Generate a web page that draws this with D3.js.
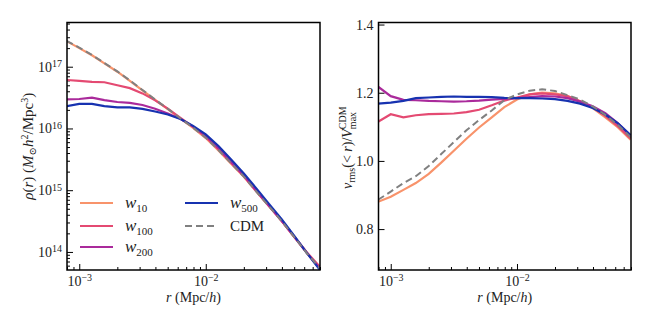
<!DOCTYPE html>
<html>
<head>
<meta charset="utf-8">
<script src="https://cdn.jsdelivr.net/npm/d3@7"></script>
<style>
  body { margin: 0; background: #fff; }
  text { font-family: "Liberation Serif", "DejaVu Serif", serif; fill: #222; }
</style>
</head>
<body>
<div id="chart"></div>
<script>
// radius grid (Mpc/h), shared by every curve
var radius = [0.000794, 0.001, 0.00126, 0.00158, 0.002, 0.00251, 0.00316, 0.00398, 0.00501, 0.00631,
  0.00794, 0.01, 0.0126, 0.0158, 0.02, 0.0251, 0.0316, 0.0398, 0.0501, 0.0631, 0.0794];

// density profiles rho(r) in M_sun h^2 / Mpc^3
var rhoCDM = [2.63e17, 2.04e17, 1.55e17, 1.15e17, 8.4e16, 6.0e16, 4.2e16, 2.95e16, 2.08e16, 1.45e16,
  1.03e16, 7.1e15, 4.47e15, 2.75e15, 1.66e15, 9.5e14, 5.5e14, 3.16e14, 1.74e14, 9.5e13, 5.5e13];
var rhoW10 = [2.6e17, 2.0e17, 1.53e17, 1.13e17, 8.3e16, 5.9e16, 4.15e16, 2.9e16, 2.05e16, 1.44e16,
  1.02e16, 7.0e15, 4.4e15, 2.72e15, 1.65e15, 9.5e14, 5.5e14, 3.16e14, 1.74e14, 9.6e13, 5.6e13];
var rhoW100 = [6.1e16, 5.9e16, 5.7e16, 5.6e16, 5.0e16, 4.5e16, 3.7e16, 2.85e16, 2.1e16, 1.48e16,
  1.06e16, 7.3e15, 4.6e15, 2.8e15, 1.7e15, 9.7e14, 5.6e14, 3.2e14, 1.76e14, 9.8e13, 5.8e13];
var rhoW200 = [2.95e16, 3.0e16, 3.15e16, 2.88e16, 2.68e16, 2.6e16, 2.4e16, 2.08e16, 1.75e16, 1.43e16,
  1.07e16, 7.6e15, 4.8e15, 2.9e15, 1.72e15, 9.8e14, 5.6e14, 3.2e14, 1.76e14, 9.6e13, 5.4e13];
var rhoW500 = [2.3e16, 2.5e16, 2.5e16, 2.3e16, 2.2e16, 2.2e16, 2.08e16, 1.88e16, 1.68e16, 1.42e16,
  1.1e16, 8.0e15, 5.2e15, 3.16e15, 1.86e15, 1.07e15, 6.0e14, 3.4e14, 1.82e14, 9.6e13, 5.2e13];

// v_rms(<r) / V_max^CDM
var velCDM = [0.886, 0.91, 0.935, 0.955, 0.985, 1.02, 1.055, 1.09, 1.12, 1.148,
  1.178, 1.195, 1.206, 1.21, 1.205, 1.193, 1.18, 1.16, 1.135, 1.105, 1.07];
var velW10 = [0.88, 0.895, 0.915, 0.935, 0.962, 0.995, 1.03, 1.065, 1.098, 1.128,
  1.158, 1.18, 1.195, 1.2, 1.198, 1.19, 1.175, 1.155, 1.128, 1.098, 1.062];
var velW100 = [1.115, 1.137, 1.128, 1.134, 1.137, 1.138, 1.139, 1.143, 1.15, 1.163,
  1.177, 1.186, 1.195, 1.198, 1.195, 1.19, 1.175, 1.157, 1.132, 1.102, 1.066];
var velW200 = [1.218, 1.19, 1.179, 1.178, 1.176, 1.175, 1.174, 1.175, 1.177, 1.18,
  1.182, 1.184, 1.187, 1.19, 1.189, 1.184, 1.174, 1.16, 1.14, 1.11, 1.074];
var velW500 = [1.168, 1.171, 1.176, 1.184, 1.186, 1.188, 1.189, 1.188, 1.188, 1.187,
  1.185, 1.184, 1.184, 1.183, 1.181, 1.176, 1.168, 1.155, 1.136, 1.11, 1.076];

var seriesNames = ["w10", "w100", "w200", "w500", "CDM"];
var seriesColors = ["#f8936b", "#e44a72", "#aa2a9b", "#1732b0", "#808080"];

var xTicks = [1e-3, 1e-2];
var rhoTicks = [1e14, 1e15, 1e16, 1e17];
var velTicks = [0.8, 1.0, 1.2, 1.4];

var rhoSeries = [rhoW10, rhoW100, rhoW200, rhoW500, rhoCDM];
var velSeries = [velW10, velW100, velW200, velW500, velCDM];

var W = 650, H = 323;
var plotTop = 22.5, plotBottom = 270;

var svg = d3.select("#chart").append("svg")
  .attr("width", W)
  .attr("height", H);

// exponent style label "10^n"
function powLabel(sel) {
  sel.each(function (d) {
    var t = d3.select(this).text(null);
    var e = Math.round(Math.log10(d));
    t.append("tspan").text("10");
    t.append("tspan").attr("dy", "-0.45em").style("font-size", "10px").text(e < 0 ? "\u2212" + (-e) : e);
  });
}

function drawPanel(x0, x1, y, ySeries, yTicksVals, logY) {
  var g = svg.append("g");
  var x = d3.scaleLog().domain([8e-4, 8e-2]).range([x0, x1]);

  var clipId = "clip" + Math.round(x0);
  svg.append("clipPath").attr("id", clipId)
    .append("rect").attr("x", x0).attr("y", plotTop).attr("width", x1 - x0).attr("height", plotBottom - plotTop);

  // minor x ticks
  g.append("g")
    .attr("transform", "translate(0," + plotBottom + ")")
    .call(d3.axisBottom(x).tickValues(x.ticks().filter(function (d) { return xTicks.indexOf(d) < 0; }))
      .tickSize(-3).tickFormat(""))
    .call(function (a) { a.select(".domain").remove(); });

  // major x ticks
  g.append("g")
    .attr("transform", "translate(0," + plotBottom + ")")
    .call(d3.axisBottom(x).tickValues(xTicks).tickSize(-6).tickPadding(6))
    .call(function (a) { a.select(".domain").remove(); })
    .selectAll(".tick text")
    .style("font-size", "14px")
    .attr("fill", null)
    .call(powLabel);

  if (logY) {
    g.append("g")
      .attr("transform", "translate(" + x0 + ",0)")
      .call(d3.axisLeft(y).tickValues(y.ticks().filter(function (d) { return yTicksVals.indexOf(d) < 0; }))
        .tickSize(-3).tickFormat(""))
      .call(function (a) { a.select(".domain").remove(); });
  }

  var yAxis = g.append("g")
    .attr("transform", "translate(" + x0 + ",0)")
    .call(d3.axisLeft(y).tickValues(yTicksVals).tickSize(-6).tickPadding(5))
    .call(function (a) { a.select(".domain").remove(); });
  yAxis.selectAll(".tick text").style("font-size", "14px").attr("fill", null);
  if (logY) yAxis.selectAll(".tick text").call(powLabel);
  else yAxis.selectAll(".tick text").text(d3.format(".1f"));

  g.selectAll(".tick line").attr("stroke", "#000");

  var line = d3.line()
    .x(function (d, i) { return x(radius[i]); })
    .y(function (d) { return y(d); });

  g.append("g")
    .attr("clip-path", "url(#" + clipId + ")")
    .selectAll("path")
    .data(ySeries)
    .enter().append("path")
    .attr("d", line)
    .attr("fill", "none")
    .attr("stroke", function (d, i) { return seriesColors[i]; })
    .attr("stroke-width", function (d, i) { return i == 4 ? 2 : 2.2; })
    .attr("stroke-dasharray", function (d, i) { return i == 4 ? "7,4" : null; });

  g.append("rect")
    .attr("x", x0).attr("y", plotTop)
    .attr("width", x1 - x0).attr("height", plotBottom - plotTop)
    .attr("fill", "none").attr("stroke", "#000").attr("stroke-width", 1.5);

  // x label
  var xl = g.append("text")
    .attr("x", (x0 + x1) / 2)
    .attr("y", 302)
    .attr("text-anchor", "middle")
    .style("font-size", "14px");
  xl.append("tspan").style("font-style", "italic").text("r");
  xl.append("tspan").text(" (Mpc/");
  xl.append("tspan").style("font-style", "italic").text("h");
  xl.append("tspan").text(")");
  return g;
}

// left panel: density
var yRho = d3.scaleLog().domain([5.1e13, 5.2e17]).range([plotBottom, plotTop]);
drawPanel(67, 320, yRho, rhoSeries, rhoTicks, true);

// right panel: velocity ratio
var yVel = d3.scaleLinear().domain([0.68, 1.406]).range([plotBottom, plotTop]);
drawPanel(378.5, 631, yVel, velSeries, velTicks, false);

// y label left
var yl = svg.append("text")
  .attr("transform", "translate(33," + ((plotTop + plotBottom) / 2) + ")rotate(-90)")
  .attr("text-anchor", "middle")
  .style("font-size", "15px");
yl.append("tspan").style("font-style", "italic").text("\u03c1");
yl.append("tspan").text("(");
yl.append("tspan").style("font-style", "italic").text("r");
yl.append("tspan").text(")  (");
yl.append("tspan").style("font-style", "italic").text("M");
yl.append("tspan").attr("dy", "3").style("font-size", "10px").text("\u2299");
yl.append("tspan").attr("dy", "-3").style("font-style", "italic").text("h");
yl.append("tspan").attr("dy", "-5").style("font-size", "10px").text("2");
yl.append("tspan").attr("dy", "5").text("/Mpc");
yl.append("tspan").attr("dy", "-5").style("font-size", "10px").text("3");
yl.append("tspan").attr("dy", "5").text(")");

// y label right
var yr = svg.append("text")
  .attr("transform", "translate(352," + ((plotTop + plotBottom) / 2) + ")rotate(-90)")
  .attr("text-anchor", "middle")
  .style("font-size", "14px");
yr.append("tspan").style("font-style", "italic").text("v");
yr.append("tspan").attr("dy", "3").style("font-size", "10px").text("rms");
yr.append("tspan").attr("dy", "-3").text("(< ");
yr.append("tspan").style("font-style", "italic").text("r");
yr.append("tspan").text(")/");
yr.append("tspan").style("font-style", "italic").text("V");
var sup = yr.append("tspan").attr("dy", "-6").style("font-size", "10px").text("CDM");
var supLen = sup.node().getComputedTextLength();
yr.append("tspan").attr("dy", "10").attr("dx", -supLen).style("font-size", "10px").text("max");
yr.append("tspan").attr("dy", "-4").text("\u2009\u2009\u2009");

// legend
var legendPos = [[80, 203], [80, 226], [80, 247], [185, 203], [185, 226]];
var legend = svg.append("g")
  .selectAll("g")
  .data(seriesNames)
  .enter().append("g")
  .attr("transform", function (d, i) { return "translate(" + legendPos[i][0] + "," + legendPos[i][1] + ")"; });

legend.append("line")
  .attr("x1", 0).attr("x2", 33)
  .attr("stroke", function (d, i) { return seriesColors[i]; })
  .attr("stroke-width", function (d, i) { return i == 4 ? 2 : 2.2; })
  .attr("stroke-dasharray", function (d, i) { return i == 4 ? "7,4" : null; });

legend.append("text")
  .attr("x", 45)
  .attr("y", 5)
  .style("font-size", "15px")
  .each(function (d, i) {
    var t = d3.select(this);
    if (d == "CDM") { t.text("CDM"); return; }
    t.append("tspan").style("font-style", "italic").style("font-size", "17px").text("w");
    t.append("tspan").attr("dy", "4").style("font-size", "11px").text(d.slice(1));
  });
</script>
</body>
</html>
